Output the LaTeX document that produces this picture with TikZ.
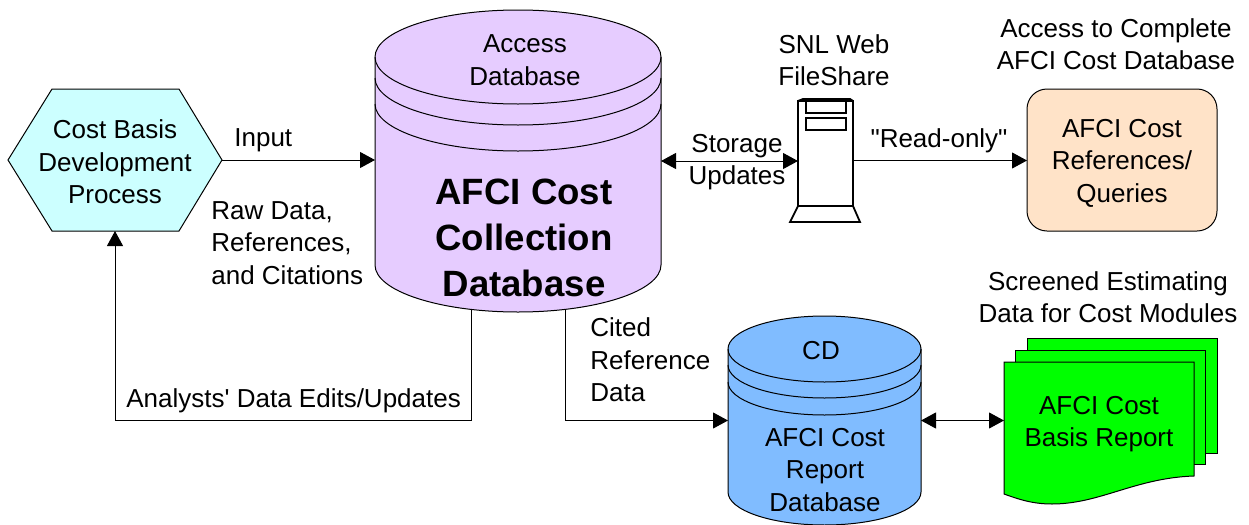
\documentclass[tikz,border=0pt]{standalone}
\usepackage{fontspec}
\setmainfont{Liberation Sans}[Ligatures=TeXOff]
\usetikzlibrary{arrows.meta}
\definecolor{dbpurple}{HTML}{E6CCFF}
\definecolor{dbblue}{HTML}{80BCFF}
\definecolor{hexcyan}{HTML}{CCFFFF}
\definecolor{boxpeach}{HTML}{FFE3C8}
\definecolor{docgreen}{HTML}{00FF00}
% args: fill, left x, right x, top centre y, band 1 y, band 2 y, bottom y, y radius
\newcommand{\dbshape}[8]{
    \pgfmathsetmacro{\rx}{(#3-#2)/2}
    \draw[thin,fill=#1] (#2,-#4) -- (#2,-#7) arc[start angle=180,end angle=360,x radius=\rx,y radius=#8] -- (#3,-#4) arc[start angle=0,end angle=180,x radius=\rx,y radius=#8] -- cycle;
    \draw[thin] (#2,-#4) arc[start angle=180,end angle=360,x radius=\rx,y radius=#8];
    \draw[thin] (#2,-#5) arc[start angle=180,end angle=360,x radius=\rx,y radius=#8];
    \draw[thin] (#2,-#6) arc[start angle=180,end angle=360,x radius=\rx,y radius=#8];
}
% args: left x, right x, top y, bottom y
\newcommand{\docsheet}[4]{
    \draw[thin,fill=docgreen] (#1,-#3) -- (#2,-#3) -- (#2,-#4) -- (#1,-#4) -- cycle;
}

\begin{document}
\begin{tikzpicture}[x=0.5pt,y=0.5pt,>={Triangle[length=7.5pt,width=8pt]},
    thin/.style={line width=0.5pt},
    lbl/.style={font=\fontsize{13}{16.25}\selectfont,align=center,inner sep=0pt},
    lleft/.style={lbl,align=left,anchor=west},
    blbl/.style={font=\fontsize{18.3}{23}\selectfont\bfseries,align=center,inner sep=0pt},
    anode/.style={inner sep=0pt,outer sep=0pt},
    line/.style={thin,draw=black}]
    \useasboundingbox (0,0) rectangle (1249,-525);

    % shapes
    \draw[thin,fill=hexcyan] (8,-160) -- (52,-89) -- (179,-89) -- (222,-160) -- (179,-231) -- (52,-231) -- cycle;
    \dbshape{dbpurple}{375}{661}{57}{78}{104}{265}{47}
    \dbshape{dbblue}{728}{921}{349}{365}{382}{492}{33}

    \docsheet{1027}{1217}{338}{453}
    \docsheet{1015}{1205}{350}{464}
    \draw[thin,fill=docgreen] (1004,-362) -- (1194,-362) -- (1194,-476) .. controls (1135,-478) and (1100,-504) .. (1052,-504) .. controls (1032,-504) and (1018,-499) .. (1004,-494) -- cycle;

    \begin{scope}[line width=0.9pt]
    \draw[fill=white] (798,-206) -- (790,-222) -- (860,-222) -- (853,-206) -- cycle;
    \draw[fill=white] (798,-101) -- (853,-101) -- (853,-206) -- (798,-206) -- cycle;
    \draw (798,-101) -- (803,-99) -- (850,-99) -- (853,-101);
    \draw (806,-101) rectangle (846,-113);
    \draw (806,-118) rectangle (846,-130);
    \end{scope}

    % nodes
    \node[anode,minimum width=107pt,minimum height=71pt] (hex) at (115,-160) {};
    \node[anode,minimum width=143pt,minimum height=151pt] (main) at (518,-161) {};
    \node[anode,minimum width=27.5pt,minimum height=61.5pt] (srv) at (825.5,-160.5) {};
    \node[anode,draw,thin,fill=boxpeach,rounded corners=10pt,minimum width=95pt,minimum height=71pt] (qry) at (1122,-160) {};
    \node[anode,minimum width=96.5pt,minimum height=103.5pt] (cd) at (824.5,-420.5) {};
    \node[anode,minimum width=95pt,minimum height=59pt] (rpt) at (1099,-421) {};
    \coordinate (mainl) at (471,-309);
    \coordinate (mainr) at (565,-309);

    \node[lbl] (hexlbl) at (115,-162) {Cost Basis\\Development\\Process};
    \node[lbl] (qrylbl) at (1122,-163) {AFCI Cost\\References/\\Queries};
    \node[lbl] (rptlbl) at (1099,-424) {AFCI Cost\\Basis Report};
    \node[lbl] (acc) at (525,-60) {Access\\Database};
    \node[blbl] (afci) at (524,-238) {AFCI Cost\\Collection\\Database};
    \node[lbl] (disc) at (821,-351) {CD};
    \node[lbl] (cdrep) at (825,-470) {AFCI Cost\\Report\\Database};

    \node[lleft] (inp) at (234,-140) {Input};
    \node[lleft] (raw) at (211,-243) {Raw Data,\\References,\\and Citations};
    \node[lleft] (edit) at (126,-401) {Analysts' Data Edits/Updates};
    \node[lleft] (cite) at (590,-360) {Cited\\Reference\\Data};
    \node[lbl] (stor) at (737,-162) {Storage\\Updates};
    \node[lbl] (ronly) at (939,-141) {"Read-only"};
    \node[lbl] (snl) at (834,-60) {SNL Web\\FileShare};
    \node[lbl] (full) at (1116,-44) {Access to Complete\\AFCI Cost Database};
    \node[lbl] (scrn) at (1108,-297) {Screened Estimating\\Data for Cost Modules};

    % connectors
    \draw[line,->] (hex.east) -- (hex.east -| main.west);
    \draw[line,<->] (main.east) -- (main.east -| srv.west);
    \draw[line,->] (srv.east) -- (srv.east -| qry.west);
    \draw[line,->] (mainr) |- (cd.west);
    \draw[line,->] (mainl) -- (mainl |- cd.west) -| (hex.south);
    \draw[line,<->] (cd.east) -- (cd.east -| rpt.west);
\end{tikzpicture}
\end{document}
